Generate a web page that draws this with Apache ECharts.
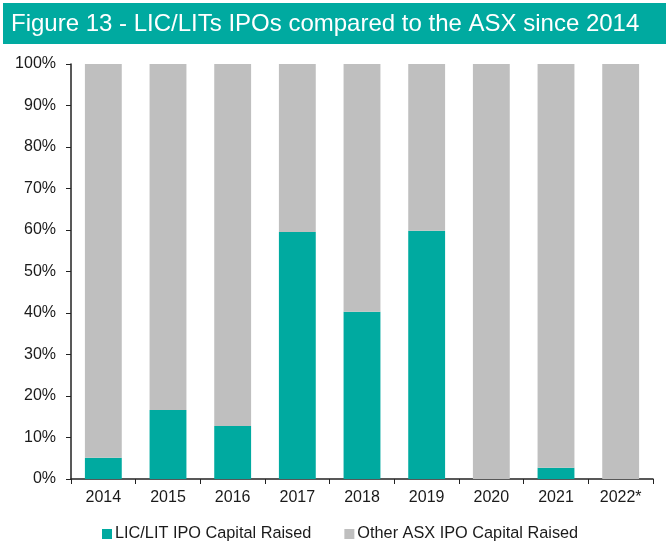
<!DOCTYPE html>
<html>
<head>
<meta charset="utf-8">
<script src="https://cdn.jsdelivr.net/npm/echarts@6/dist/echarts.min.js"></script>
<style>
  html, body { margin: 0; padding: 0; background: #fff; }
  #main { width: 668px; height: 545px; }
</style>
</head>
<body>
<div id="main"></div>
<script>
var dom = document.getElementById('main');
var myChart = echarts.init(dom, null, { renderer: 'canvas' });

const years = ['2014', '2015', '2016', '2017', '2018', '2019', '2020', '2021', '2022*'];
const licShare = [5.1, 16.6, 12.8, 59.5, 40.3, 59.8, 0, 2.7, 0];
const otherShare = [94.9, 83.4, 87.2, 40.5, 59.7, 40.2, 100, 97.3, 100];

const teal = '#00AAA0';
const grey = '#BFBFBF';
const font = 'Liberation Sans, Arial, sans-serif';

var option = {
  backgroundColor: '#fff',
  animation: false,
  graphic: [
    {
      type: 'rect',
      shape: { x: 3, y: 3, width: 663, height: 41 },
      style: { fill: teal }
    },
    {
      type: 'text',
      x: 11,
      y: 24,
      style: {
        text: 'Figure 13 - LIC/LITs IPOs compared to the ASX since 2014',
        fill: '#fff',
        font: '24px ' + font,
        verticalAlign: 'middle'
      }
    }
  ],
  grid: { left: 71, right: 15, top: 64, bottom: 66 },
  legend: {
    top: 521,
    left: 97,
    itemWidth: 10,
    itemHeight: 10,
    itemGap: 33,
    icon: 'rect',
    textStyle: { fontFamily: font, fontSize: 16.3, color: '#1a1a1a', padding: [0, 0, 0, -2] },
    data: ['LIC/LIT IPO Capital Raised', 'Other ASX IPO Capital Raised']
  },
  xAxis: {
    type: 'category',
    data: years,
    axisLine: { lineStyle: { color: '#222', width: 1.5 } },
    axisTick: { show: true, length: 5, lineStyle: { color: '#222' } },
    axisLabel: { fontFamily: font, fontSize: 16, color: '#1a1a1a', margin: 11 }
  },
  yAxis: {
    type: 'value',
    min: 0,
    max: 100,
    interval: 10,
    axisLine: { show: true, lineStyle: { color: '#222', width: 1.5 } },
    axisTick: { show: true, length: 5, lineStyle: { color: '#222' } },
    splitLine: { show: false },
    axisLabel: { fontFamily: font, fontSize: 16, color: '#1a1a1a', margin: 15, formatter: '{value}%' }
  },
  series: [
    {
      name: 'LIC/LIT IPO Capital Raised',
      type: 'bar',
      stack: 'total',
      barWidth: '57%',
      itemStyle: { color: teal },
      data: licShare
    },
    {
      name: 'Other ASX IPO Capital Raised',
      type: 'bar',
      stack: 'total',
      barWidth: '57%',
      itemStyle: { color: grey },
      data: otherShare
    }
  ]
};

myChart.setOption(option);
window.addEventListener('resize', myChart.resize);
</script>
</body>
</html>
